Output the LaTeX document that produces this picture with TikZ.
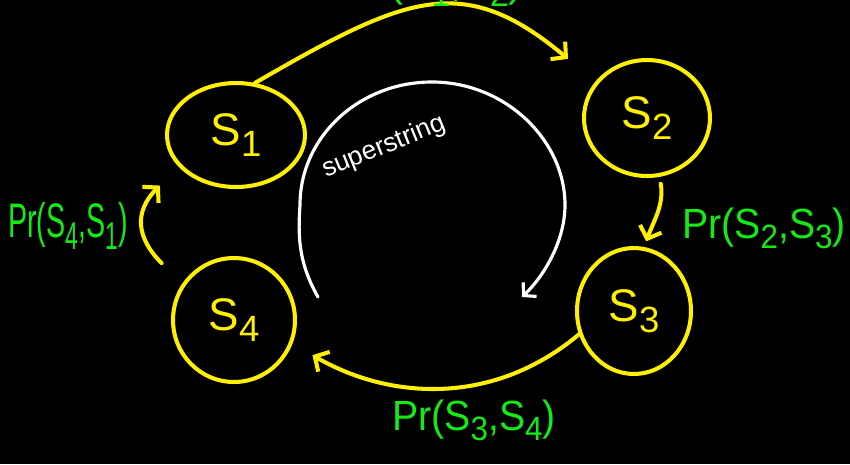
\documentclass[tikz,border=0pt]{standalone}
\usepackage{fontspec}
\setmainfont{Liberation Sans}
\usepackage{graphicx}
\usetikzlibrary{shapes.geometric, arrows.meta}
\definecolor{penyellow}{RGB}{255,240,0}
\definecolor{pengreen}{RGB}{20,235,20}
\newcommand{\lo}[1]{\raisebox{-0.45ex}{\scalebox{0.8}{#1}}}

\begin{document}
\begin{tikzpicture}[x=0.02cm, y=-0.02cm,
    state/.style={ellipse, draw=penyellow, line width=2.3pt, text=penyellow, inner sep=0pt, font=\fontsize{26}{28}\selectfont},
    link/.style={draw=penyellow, line width=2.3pt, line cap=round, -{Straight Barb[length=6pt,width=13pt]}},
    prob/.style={text=pengreen, inner sep=0pt, font=\fontsize{24}{26}\selectfont}]
            % background
            \fill[black] (0,0) rectangle (850,464);
            \useasboundingbox (0,0) rectangle (850,464);

            % states
            \node[state, minimum width=2.76cm, minimum height=2.08cm] (s1) at (236,135) {S\lo{1}};
            \node[state, minimum width=2.52cm, minimum height=2.32cm] (s2) at (647,118) {S\lo{2}};
            \node[state, minimum width=2.28cm, minimum height=2.52cm] (s3) at (634,311) {S\lo{3}};
            \node[state, minimum width=2.44cm, minimum height=2.48cm] (s4) at (234,320) {S\lo{4}};

            % transitions
            \draw[link, shorten >=0.71cm] (s1.70) to[out=30, in=140, looseness=1.3] (s2.145);
            \draw[link, shorten <=0.14cm, shorten >=0.12cm] (s2.-78) to[out=-80, in=70] (s3.81);
            \draw[link, shorten >=0.46cm] (s3.203) to[out=-140, in=-30] (s4.-22);
            \draw[link, shorten <=0.58cm, shorten >=0.53cm] (s4.145) to[out=135, in=-135, looseness=1.4] (s1.209);

            % probabilities
            \node[prob, anchor=base] (p12) at (435,-4) {Pr(S\lo{1},S\lo{2})};
            \node[prob] (p23) at (764,228) {\scalebox{0.93}[1]{Pr(S\lo{2},S\lo{3})}};
            \node[prob] (p34) at (474,420) {\scalebox{0.93}[1]{Pr(S\lo{3},S\lo{4})}};
            \node[prob] (p41) at (68,226) {\scalebox{0.68}[1.15]{Pr(S\lo{4},S\lo{1})}};

            % superstring
            \draw[white, line width=1.8pt, line cap=round, -{Straight Barb[length=5pt,width=11pt]}]
                (318,297) .. controls (298,262) and (298,235) .. (300,205)
                .. controls (300,137) and (359,82) .. (432,82)
                .. controls (505,82) and (565,140) .. (565,205)
                .. controls (565,240) and (545,275) .. (522,297);
            \node[text=white, rotate=22, inner sep=0pt, font=\fontsize{15}{15}\selectfont] (ss) at (384,147) {superstring};
\end{tikzpicture}
\end{document}
